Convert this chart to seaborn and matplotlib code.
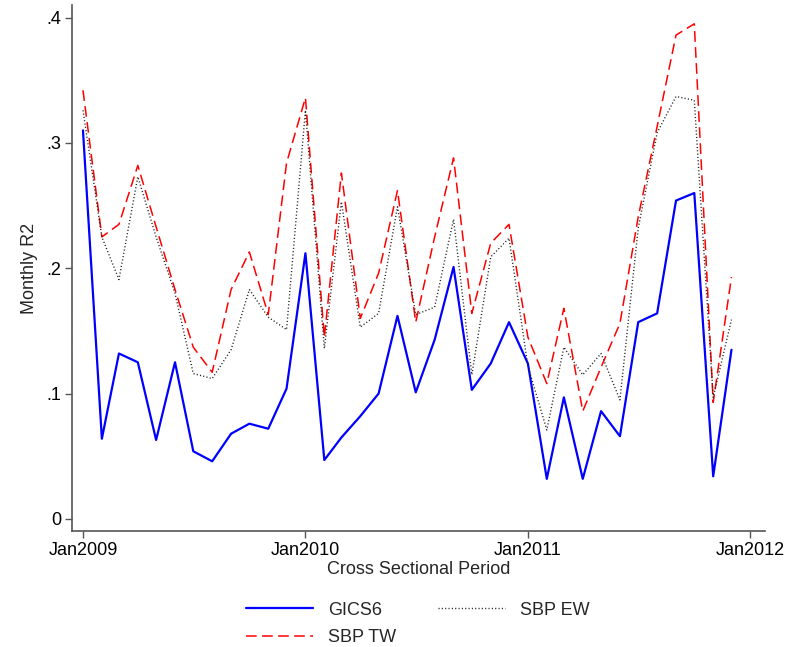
import numpy as np
import pandas as pd
import matplotlib
matplotlib.use("Agg")
import matplotlib.pyplot as plt
import seaborn as sns

months = pd.date_range("2009-01-01", periods=36, freq="MS")

gics6 = [0.310, 0.064, 0.132, 0.125, 0.063, 0.125, 0.054, 0.046, 0.068, 0.076, 0.072, 0.104,
         0.212, 0.047, 0.065, 0.082, 0.100, 0.162, 0.101, 0.143, 0.201, 0.103, 0.124, 0.157,
         0.124, 0.032, 0.097, 0.032, 0.086, 0.066, 0.157, 0.164, 0.254, 0.260, 0.034, 0.135]

sbp_tw = [0.342, 0.225, 0.235, 0.282, 0.233, 0.183, 0.137, 0.117, 0.183, 0.213, 0.163, 0.284,
          0.336, 0.145, 0.276, 0.160, 0.196, 0.262, 0.157, 0.225, 0.288, 0.164, 0.220, 0.235,
          0.145, 0.108, 0.168, 0.086, 0.121, 0.156, 0.241, 0.313, 0.386, 0.395, 0.093, 0.193]

sbp_ew = [0.326, 0.225, 0.191, 0.273, 0.225, 0.180, 0.116, 0.112, 0.135, 0.183, 0.161, 0.151,
          0.326, 0.136, 0.253, 0.153, 0.164, 0.249, 0.163, 0.169, 0.239, 0.115, 0.209, 0.224,
          0.122, 0.071, 0.137, 0.115, 0.132, 0.095, 0.232, 0.308, 0.337, 0.334, 0.097, 0.159]

series_names = ["GICS6", "SBP TW", "SBP EW"]
y_ticks = [0, 0.1, 0.2, 0.3, 0.4]
y_tick_labels = ["0", ".1", ".2", ".3", ".4"]
x_tick_years = [2009, 2010, 2011, 2012]

sns.set_style("white")
plt.rcParams["font.family"] = ["Liberation Sans", "DejaVu Sans"]

fig = plt.figure(figsize=(7.94, 6.47), dpi=100)
ax = fig.add_axes([72 / 794, 1 - 531 / 647, (765 - 72) / 794, (531 - 5) / 647])

df = pd.DataFrame({"month": months, "GICS6": gics6, "SBP TW": sbp_tw, "SBP EW": sbp_ew})

sns.lineplot(data=df, x="month", y="GICS6", ax=ax, color="#0000ff", lw=1.6, label="GICS6")
sns.lineplot(data=df, x="month", y="SBP TW", ax=ax, color="#ff0000", lw=1.1,
             linestyle=(0, (7, 3.5)), label="SBP TW")
sns.lineplot(data=df, x="month", y="SBP EW", ax=ax, color="#222222", lw=1.0,
             linestyle=(0, (0.8, 1.6)), label="SBP EW")

start = pd.Timestamp("2009-01-01")
ax.set_xlim(start - pd.Timedelta(days=18), pd.Timestamp("2012-01-25"))
ax.set_ylim(-0.0096, 0.41)

ax.set_xticks([pd.Timestamp(f"{y}-01-01") for y in x_tick_years])
ax.set_xticklabels([f"Jan{y}" for y in x_tick_years], fontsize=13)
ax.set_yticks(y_ticks)
ax.set_yticklabels(y_tick_labels, fontsize=13)

for s in ["top", "right"]:
    ax.spines[s].set_visible(False)
for s in ["left", "bottom"]:
    ax.spines[s].set_color("#555555")
    ax.spines[s].set_linewidth(1.2)
ax.tick_params(axis="both", direction="out", length=5, width=1, color="#555555",
               labelcolor="black", pad=3, bottom=True, left=True)

ax.set_xlabel("Cross Sectional Period", fontsize=13, labelpad=1)
ax.set_ylabel("Monthly R2", fontsize=13, labelpad=6)

handles, labels = ax.get_legend_handles_labels()
ax.get_legend().remove()
order = [labels.index("GICS6"), labels.index("SBP TW"), labels.index("SBP EW")]
fig.legend([handles[i] for i in order], [labels[i] for i in order],
           loc="center", bbox_to_anchor=(418 / 794, 1 - 624 / 647), ncol=2,
           frameon=False, fontsize=13, handlelength=3.7, columnspacing=2.3,
           handletextpad=0.85, labelspacing=0.6)

fig.savefig("out.png", dpi=100)
